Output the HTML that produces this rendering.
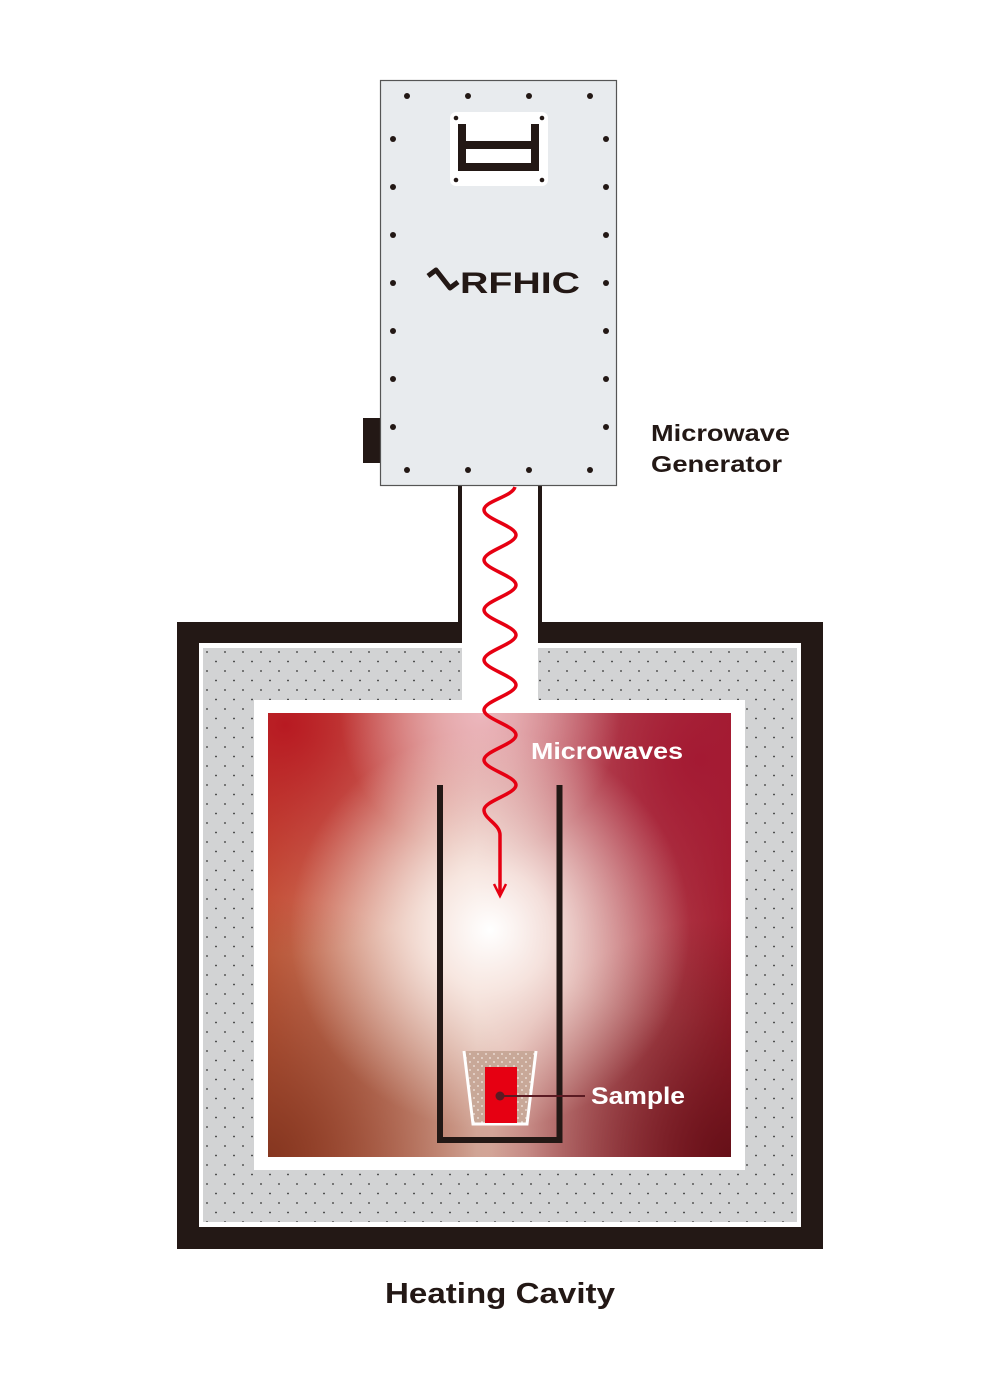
<!DOCTYPE html>
<html><head><meta charset="utf-8"><style>
html,body{margin:0;padding:0;background:#fff}
svg{display:block}
text{font-family:"Liberation Sans",sans-serif;font-weight:bold}
</style></head><body>
<svg width="1000" height="1394" viewBox="0 0 1000 1394" xmlns="http://www.w3.org/2000/svg">
<defs>
<pattern id="dots" width="18" height="19" patternUnits="userSpaceOnUse" x="203" y="648">
<rect width="18" height="19" fill="#d2d3d4"/>
<circle cx="4" cy="4" r="0.9" fill="#333"/>
<circle cx="13" cy="13.5" r="0.9" fill="#333"/>
</pattern>
<pattern id="wdots" width="8" height="8" patternUnits="userSpaceOnUse">
<rect width="8" height="8" fill="#c8a898"/>
<circle cx="2" cy="2" r="0.9" fill="#f4e8e2"/>
<circle cx="6" cy="6" r="0.9" fill="#f4e8e2"/>
</pattern>
<linearGradient id="base" x1="0" y1="0" x2="1" y2="0">
<stop offset="0" stop-color="#c8603f"/>
<stop offset="0.45" stop-color="#e3bfb2"/>
<stop offset="1" stop-color="#a3202f"/>
</linearGradient>
<radialGradient id="tl" cx="285" cy="725" r="230" gradientUnits="userSpaceOnUse">
<stop offset="0" stop-color="#b81a22" stop-opacity="1"/>
<stop offset="1" stop-color="#b81a22" stop-opacity="0"/>
</radialGradient>
<radialGradient id="bl" cx="268" cy="1157" r="260" gradientUnits="userSpaceOnUse">
<stop offset="0" stop-color="#853620" stop-opacity="1"/>
<stop offset="1" stop-color="#853620" stop-opacity="0"/>
</radialGradient>
<radialGradient id="br" cx="731" cy="1157" r="240" gradientUnits="userSpaceOnUse">
<stop offset="0" stop-color="#661018" stop-opacity="1"/>
<stop offset="1" stop-color="#661018" stop-opacity="0"/>
</radialGradient>
<radialGradient id="tr" cx="700" cy="760" r="260" gradientUnits="userSpaceOnUse">
<stop offset="0" stop-color="#a41a33" stop-opacity="1"/>
<stop offset="1" stop-color="#a41a33" stop-opacity="0"/>
</radialGradient>
<radialGradient id="pk" cx="480" cy="715" r="140" gradientUnits="userSpaceOnUse">
<stop offset="0" stop-color="#ecb6bc" stop-opacity="1"/>
<stop offset="1" stop-color="#ecb6bc" stop-opacity="0"/>
</radialGradient>
<radialGradient id="wh" cx="490" cy="930" r="200" gradientUnits="userSpaceOnUse">
<stop offset="0" stop-color="#ffffff" stop-opacity="1"/>
<stop offset="0.3" stop-color="#fbefea" stop-opacity="0.85"/>
<stop offset="1" stop-color="#f0d8d0" stop-opacity="0"/>
</radialGradient>
</defs>

<rect x="177" y="622" width="646" height="627" fill="#231815"/>
<rect x="199" y="643" width="602" height="584" fill="#fff"/>
<rect x="203" y="648" width="594" height="574" fill="url(#dots)"/>
<rect x="254" y="700" width="491" height="470" fill="#fff"/>
<rect x="462" y="486" width="76" height="230" fill="#fff"/>
<rect x="458" y="486" width="4" height="143" fill="#231815"/>
<rect x="538" y="486" width="4" height="143" fill="#231815"/>
<g>
<rect x="268" y="713" width="463" height="444" fill="url(#base)"/>
<rect x="268" y="713" width="463" height="444" fill="url(#tr)"/>
<rect x="268" y="713" width="463" height="444" fill="url(#tl)"/>
<rect x="268" y="713" width="463" height="444" fill="url(#bl)"/>
<rect x="268" y="713" width="463" height="444" fill="url(#br)"/>
<rect x="268" y="713" width="463" height="444" fill="url(#pk)"/>
<rect x="268" y="713" width="463" height="444" fill="url(#wh)"/>
</g>
<path d="M440 785 V1140 H559.5 V785" fill="none" stroke="#231815" stroke-width="6"/>
<path d="M464 1051 L536 1051 L527 1124 L473 1124 Z" fill="url(#wdots)"/>
<path d="M464 1051 L473 1124 L527 1124 L536 1051" fill="none" stroke="#fff" stroke-width="3"/>
<rect x="485" y="1067" width="32" height="56" fill="#e60012"/>
<line x1="500" y1="1096" x2="585" y2="1096" stroke="#5a1a22" stroke-width="2"/>
<circle cx="500" cy="1096" r="4.5" fill="#5a1a22"/>
<text x="591" y="1104" font-size="24" fill="#fff" textLength="94" lengthAdjust="spacingAndGlyphs">Sample</text>
<text x="531" y="759" font-size="23" fill="#fff" textLength="152" lengthAdjust="spacingAndGlyphs">Microwaves</text>

<rect x="363" y="418" width="18" height="45" fill="#231815"/>
<rect x="380.5" y="80.5" width="236" height="405" fill="#e8ebee" stroke="#555" stroke-width="1.2"/>
<rect x="450" y="112" width="98" height="74" rx="6" fill="#fff"/>
<path d="M462 124 V167 H535 V124" fill="none" stroke="#231815" stroke-width="8"/>
<line x1="466" y1="145" x2="535" y2="145" stroke="#231815" stroke-width="8"/>
<g fill="#231815">
<circle cx="456" cy="118" r="2.3"/><circle cx="542" cy="118" r="2.3"/>
<circle cx="456" cy="180" r="2.3"/><circle cx="542" cy="180" r="2.3"/>
<circle cx="407" cy="96" r="3"/><circle cx="468" cy="96" r="3"/><circle cx="529" cy="96" r="3"/><circle cx="590" cy="96" r="3"/>
<circle cx="407" cy="470" r="3"/><circle cx="468" cy="470" r="3"/><circle cx="529" cy="470" r="3"/><circle cx="590" cy="470" r="3"/>
<circle cx="393" cy="139" r="3"/><circle cx="393" cy="187" r="3"/><circle cx="393" cy="235" r="3"/><circle cx="393" cy="283" r="3"/><circle cx="393" cy="331" r="3"/><circle cx="393" cy="379" r="3"/><circle cx="393" cy="427" r="3"/>
<circle cx="606" cy="139" r="3"/><circle cx="606" cy="187" r="3"/><circle cx="606" cy="235" r="3"/><circle cx="606" cy="283" r="3"/><circle cx="606" cy="331" r="3"/><circle cx="606" cy="379" r="3"/><circle cx="606" cy="427" r="3"/>
</g>
<path d="M428 276 L436 270 L450 288 L458 282" fill="none" stroke="#231815" stroke-width="5" stroke-linejoin="round"/>
<text x="460" y="293" font-size="30" fill="#231815" textLength="120" lengthAdjust="spacingAndGlyphs">RFHIC</text>

<path d="M515 487 C512 497 484 501 484 510 C484 519 516 526 516 535 C516 544 484 551 484 560 C484 569 516 576 516 585 C516 594 484 601 484 610 C484 619 516 626 516 635 C516 644 484 651 484 660 C484 669 516 676 516 685 C516 694 484 701 484 710 C484 719 516 726 516 735 C516 744 484 751 484 760 C484 769 516 776 516 785 C516 794 484 801 484 810 C484 819 500 824 500 835 L500 895" fill="none" stroke="#e60012" stroke-width="3.5"/>
<path d="M494 884 L500 896 L506 884" fill="none" stroke="#e60012" stroke-width="2.5"/>

<text x="651" y="441" font-size="23" fill="#231815" textLength="139" lengthAdjust="spacingAndGlyphs">Microwave</text>
<text x="651" y="472" font-size="23" fill="#231815" textLength="131" lengthAdjust="spacingAndGlyphs">Generator</text>
<text x="385" y="1303" font-size="29" fill="#231815" textLength="230" lengthAdjust="spacingAndGlyphs">Heating Cavity</text>
</svg>
</body></html>
